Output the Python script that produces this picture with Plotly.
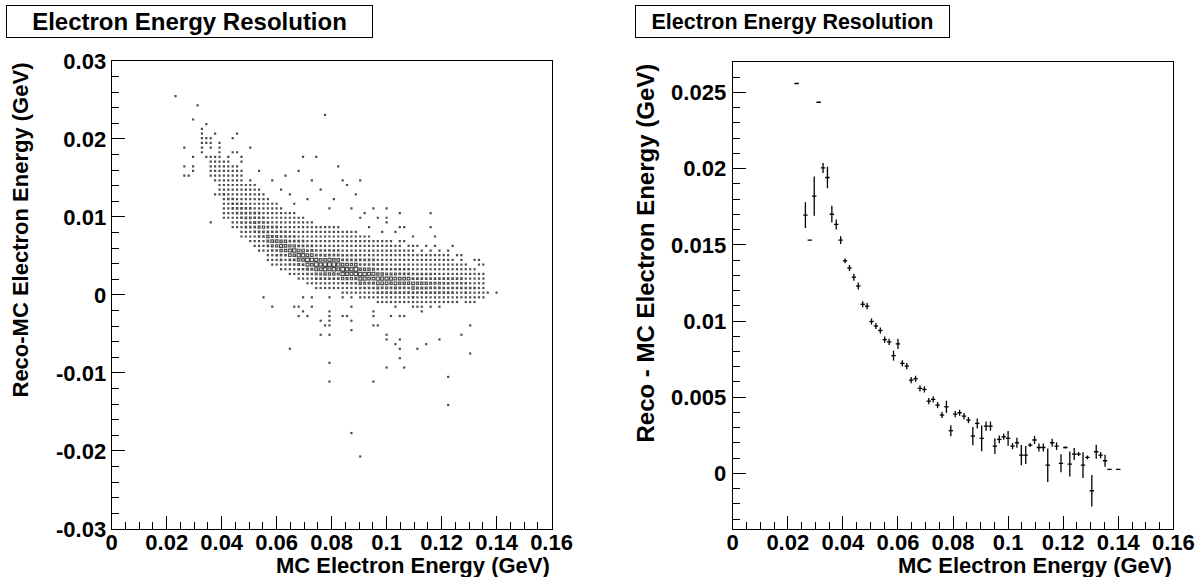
import plotly.graph_objects as go

# ---------------- data ----------------
X_RANGE = (0.0, 0.16)
Y_RANGE_LEFT = (-0.03, 0.03)
Y_RANGE_RIGHT = (-0.00365, 0.0270)
N_XBINS = 100
N_YBINS = 100

# Left panel: 2D histogram cells.
# (column bin index, lowest row bin index, counts going upward)
band_columns = [
    (16, 75, "1 0 1 0 0 0 1"),
    (18, 76, "1 1 0 1 0 0 0 0 0 0 0 1"),
    (20, 80, "1 1 1 1 1 1"),
    (21, 79, "1 0 0 1 1 0 0 1"),
    (22, 75, "1 1 1 2 1 0 1 1 1"),
    (23, 71, "1 0 0 1 2 2 2 1 1 0 0 0 0 1"),
    (24, 71, "1 1 3 2 1 1 1 1 1 1 1 1"),
    (25, 66, "1 1 2 2 3 4 3 2 2 1 1 1 1 0"),
    (26, 65, "0 1 1 2 3 5 3 3 2 2 1 1 1 1"),
    (27, 64, "1 1 2 3 4 5 4 3 2 2 1 1 1 1"),
    (28, 63, "0 1 2 3 4 6 5 3 3 2 1 1 1 1"),
    (29, 62, "1 1 2 4 5 6 5 4 3 2 2 1 1 1"),
    (30, 61, "0 1 2 4 6 7 6 4 3 2 2 1 1 0"),
    (31, 61, "1 1 3 4 6 7 5 4 3 3 2 1 1 1"),
    (32, 60, "1 1 2 5 6 8 6 5 3 2 2 1 1 1"),
    (33, 59, "1 2 3 5 7 8 7 5 4 3 2 1 1 1"),
    (34, 59, "1 1 3 5 7 9 7 5 3 3 2 1 1 0"),
    (35, 57, "1 2 3 6 8 9 7 6 4 3 2 2 1 1"),
    (36, 56, "1 1 3 6 8 10 8 6 4 3 2 1 1 1"),
    (37, 56, "1 2 4 6 9 10 8 5 4 3 2 2 1 1"),
    (38, 55, "1 2 4 7 9 11 9 6 4 3 2 1 1 1"),
    (39, 55, "1 2 3 6 9 10 9 6 4 3 2 2 1 0"),
    (40, 54, "2 2 4 7 10 11 9 6 5 3 2 1 1 1"),
    (41, 54, "1 2 4 7 9 12 9 7 4 3 2 2 1 1"),
    (42, 53, "1 3 5 8 10 12 10 7 5 3 2 1 1 1"),
    (43, 53, "1 2 4 7 10 12 10 7 4 3 2 2 1 1"),
    (44, 52, "2 3 5 8 11 13 10 7 5 3 2 1 1 1"),
    (45, 52, "1 2 5 8 10 12 10 8 5 3 2 2 1 1"),
    (46, 51, "1 3 5 8 11 13 11 7 5 3 2 1 1 1"),
    (47, 51, "1 2 4 8 11 12 10 7 5 3 2 2 1 1"),
    (48, 51, "2 3 5 9 12 13 10 8 5 3 2 1 1 1"),
    (49, 51, "1 3 5 9 11 13 11 7 4 3 2 2 1 1"),
    (50, 51, "2 3 6 9 12 13 10 7 5 3 2 1 1 1"),
    (51, 51, "1 3 5 8 11 12 10 7 5 3 2 2 1 1"),
    (52, 50, "2 3 6 9 12 13 10 7 4 3 2 1 1 1"),
    (53, 50, "1 3 5 8 11 12 10 7 5 3 2 1 1 1"),
    (54, 50, "2 2 5 9 11 12 9 6 4 3 2 2 1 1"),
    (55, 50, "1 3 5 8 12 13 10 7 4 3 2 1 1 1"),
    (56, 49, "2 3 6 9 11 12 9 6 4 3 2 1 1 1"),
    (57, 49, "1 2 5 8 11 12 9 6 4 3 2 2 1 1"),
    (58, 49, "1 3 5 8 10 11 9 6 4 3 2 1 1 1"),
    (59, 49, "2 2 5 8 10 11 8 6 4 2 2 1 1 0"),
    (60, 48, "1 2 4 8 10 12 9 6 4 3 2 1 1 1"),
    (61, 48, "1 2 5 7 10 11 9 6 4 2 2 1 1 1"),
    (62, 48, "1 3 5 8 10 11 8 5 3 2 2 1 1 1"),
    (63, 48, "1 2 4 7 9 11 8 5 3 2 1 1 1 1"),
    (64, 48, "1 2 5 8 10 10 8 5 3 2 2 1 1 0"),
    (65, 48, "1 2 4 7 9 10 7 5 3 2 1 1 1 1"),
    (66, 48, "1 2 4 7 9 10 7 4 3 2 1 1 0 1"),
    (67, 48, "1 2 4 6 9 10 7 4 3 2 1 1 1 0"),
    (68, 47, "1 1 4 6 9 10 7 4 3 2 1 1 1 1"),
    (69, 47, "1 2 3 6 8 9 7 4 3 2 1 1 0 1"),
    (70, 47, "1 1 3 6 8 9 6 4 2 2 1 1 1 0"),
    (71, 47, "0 1 3 5 8 9 6 4 2 1 1 1 0 1"),
    (72, 47, "1 1 3 5 7 8 6 4 2 2 1 1 1 0"),
    (73, 47, "0 1 3 5 7 8 6 3 2 1 1 1 0 1"),
    (74, 47, "1 1 2 5 7 8 5 3 2 1 1 0 1 0"),
    (75, 47, "0 1 2 4 6 7 5 3 2 1 1 1 0 0"),
    (76, 47, "0 1 2 4 6 7 5 3 2 1 1 0 1 0"),
    (77, 47, "0 1 2 4 5 6 4 3 2 1 1 0 0 1"),
    (78, 47, "0 1 2 3 5 6 4 2 2 1 0 1 0 0"),
    (79, 47, "0 0 1 3 4 5 4 2 1 1 0 1 0 0"),
    (80, 46, "0 0 1 2 4 5 4 2 1 1 1 0 0 0"),
    (81, 46, "0 0 1 2 3 4 3 2 1 1 0 0 0 0"),
    (82, 46, "0 0 1 1 3 4 3 2 1 1 0 1 0 0"),
    (83, 46, "0 0 0 1 2 3 2 1 1 0 1 0 0 0"),
    (84, 46, "0 0 0 1 2 3 2 1 1 0 0 0 0 0"),
]

# isolated single-entry cells (column bin, row bin)
single_cells = [
    (14, 92), (17, 75), (19, 90), (22, 65),
    (26, 79), (27, 80), (27, 83), (28, 77), (28, 80), (28, 84), (29, 76),
    (29, 78), (29, 79), (31, 81), (33, 76), (36, 74), (38, 72), (39, 75),
    (40, 71), (41, 69), (42, 76), (43, 79), (44, 70), (45, 74), (46, 79),
    (47, 72), (48, 88), (50, 70), (51, 77), (52, 74), (53, 73), (49, 68),
    (54, 68), (55, 71), (56, 74), (56, 66), (57, 67), (58, 64), (59, 68),
    (60, 66), (61, 63), (62, 68), (62, 66), (62, 65), (64, 63), (65, 67),
    (65, 64), (66, 61), (66, 64), (68, 62), (72, 64), (72, 67), (73, 62),
    (74, 58), (76, 58), (79, 57), (83, 57), (84, 56), (85, 50), (87, 50),
    (34, 49), (36, 47), (40, 38), (41, 47), (42, 47), (42, 45), (43, 49),
    (43, 46), (44, 45), (45, 49), (45, 47), (47, 44), (47, 41), (48, 43),
    (49, 49), (49, 46), (49, 45), (49, 44), (49, 43), (49, 41), (49, 35),
    (49, 31), (52, 49), (52, 45), (53, 45), (54, 49), (54, 47), (54, 44),
    (54, 42), (54, 20), (56, 15), (59, 46), (59, 45), (59, 43), (59, 31),
    (60, 43), (62, 41), (62, 40), (62, 34), (63, 45), (64, 47), (64, 39),
    (65, 45), (65, 40), (65, 38), (65, 36), (66, 45), (66, 34), (69, 38),
    (70, 46), (71, 39), (74, 40), (76, 32), (76, 26), (79, 41), (81, 43),
    (81, 37),
]

# Right panel: profile (bin index, mean, error on mean)
profile_bins = [14, 16, 17, 18, 19, 20, 21, 22, 23, 24, 25, 26, 27, 28, 29, 30,
                31, 32, 33, 34, 35, 36, 37, 38, 39, 40, 41, 42, 43, 44, 45, 46,
                47, 48, 49, 50, 51, 52, 53, 54, 55, 56, 57, 58, 59, 60, 61, 62,
                63, 64, 65, 66, 67, 68, 69, 70, 71, 72, 73, 74, 75, 76, 77, 78,
                79, 80, 81, 82, 83, 84, 85, 87]
profile_mean = [0.02559, 0.01695, 0.01531, 0.01820, 0.02436, 0.02005, 0.01942,
                0.01701, 0.01634, 0.01531, 0.01395, 0.01348, 0.01288, 0.01230,
                0.01110, 0.01098, 0.00997, 0.00967, 0.00938, 0.00878, 0.00863,
                0.00773, 0.00850, 0.00722, 0.00704, 0.00612, 0.00621, 0.00558,
                0.00551, 0.00474, 0.00486, 0.00448, 0.00383, 0.00437, 0.00280,
                0.00389, 0.00398, 0.00376, 0.00350, 0.00245, 0.00328, 0.00230,
                0.00310, 0.00310, 0.00179, 0.00223, 0.00240, 0.00230, 0.00179,
                0.00201, 0.00120, 0.00120, 0.00186, 0.00219, 0.00170, 0.00170,
                0.00054, 0.00201, 0.00179, 0.00066, 0.00170, 0.00061, 0.00127,
                0.00127, 0.00054, 0.00105, -0.00114, 0.00142, 0.00120, 0.00083,
                0.00026, 0.00026]
profile_err = [0.0, 0.00085, 0.0, 0.00129, 0.0, 0.00033, 0.00071, 0.00055,
               0.00033, 0.00026, 0.00016, 0.00020, 0.00023, 0.00023, 0.00020,
               0.00020, 0.00020, 0.00020, 0.00020, 0.00020, 0.00020, 0.00033,
               0.00033, 0.00020, 0.00020, 0.00020, 0.00020, 0.00020, 0.00020,
               0.00020, 0.00020, 0.00020, 0.00020, 0.00040, 0.00036, 0.00020,
               0.00020, 0.00020, 0.00020, 0.00060, 0.00033, 0.00085, 0.00030,
               0.00030, 0.00052, 0.00026, 0.00020, 0.00049, 0.00020, 0.00033,
               0.00066, 0.00059, 0.00013, 0.00026, 0.00026, 0.00026, 0.00110,
               0.00026, 0.00026, 0.00059, 0.00007, 0.00082, 0.00039, 0.00013,
               0.00085, 0.00013, 0.00103, 0.00046, 0.00020, 0.00039, 0.0, 0.0]

x_ticks = [0, 0.02, 0.04, 0.06, 0.08, 0.1, 0.12, 0.14, 0.16]
x_tick_text = ["0", "0.02", "0.04", "0.06", "0.08", "0.1", "0.12", "0.14", "0.16"]
yl_ticks = [-0.03, -0.02, -0.01, 0, 0.01, 0.02, 0.03]
yl_tick_text = ["-0.03", "-0.02", "-0.01", "0", "0.01", "0.02", "0.03"]
yr_ticks = [0, 0.005, 0.01, 0.015, 0.02, 0.025]
yr_tick_text = ["0", "0.005", "0.01", "0.015", "0.02", "0.025"]

TITLE = "Electron Energy Resolution"
X_TITLE = "MC Electron Energy (GeV)"
YL_TITLE = "Reco-MC Electron Energy (GeV)"
YR_TITLE = "Reco - MC Electron Energy (GeV)"

# ---------------- build ----------------
bw = (X_RANGE[1] - X_RANGE[0]) / N_XBINS
bh = (Y_RANGE_LEFT[1] - Y_RANGE_LEFT[0]) / N_YBINS

cells = {}
for i, jlo, s in band_columns:
    for k, c in enumerate(s.split()):
        c = int(c)
        if c:
            cells[(i, jlo + k)] = cells.get((i, jlo + k), 0) + c
for i, j in single_cells:
    cells[(i, j)] = cells.get((i, j), 0) + 1

cmax = max(cells.values())
sx, sy, ss = [], [], []      # small cells: filled dots
bx, by, bs = [], [], []      # larger cells: open boxes
for (i, j), c in sorted(cells.items()):
    xc = X_RANGE[0] + (i + 0.5) * bw
    yc = Y_RANGE_LEFT[0] + (j + 0.5) * bh
    side = 4.4 * c / cmax
    if c <= 3:
        sx.append(xc); sy.append(yc); ss.append(max(2.2, side + 0.8))
    else:
        bx.append(xc); by.append(yc); bs.append(max(1.4, side - 0.8))

px = [X_RANGE[0] + (b + 0.5) * bw for b in profile_bins]

FONT = "Liberation Sans, Arial, Helvetica, sans-serif"

fig = go.Figure()
fig.add_trace(go.Scatter(
    x=sx, y=sy, mode="markers", xaxis="x", yaxis="y",
    marker=dict(symbol="square", size=ss, color="black", line=dict(width=0)),
    hoverinfo="skip", showlegend=False))
fig.add_trace(go.Scatter(
    x=bx, y=by, mode="markers", xaxis="x", yaxis="y",
    marker=dict(symbol="square-open", size=bs, color="black",
                line=dict(width=1.2, color="black")),
    hoverinfo="skip", showlegend=False))

fig.add_trace(go.Scatter(
    x=px, y=profile_mean, mode="markers", xaxis="x2", yaxis="y2",
    marker=dict(size=1, color="black", opacity=0),
    error_x=dict(type="constant", value=bw / 2, width=0, thickness=1.3, color="black"),
    error_y=dict(type="data", array=profile_err, width=0, thickness=1.3, color="black"),
    hoverinfo="skip", showlegend=False))

tickfont = dict(family=FONT, size=22, color="black", weight="bold")
common = dict(showline=True, mirror=True, linecolor="black", linewidth=1.3,
              ticks="inside", ticklen=13, tickwidth=1.2, tickcolor="black",
              showgrid=False, zeroline=False, tickfont=tickfont,
              tickmode="array", fixedrange=True, automargin=False)

def minor(dt):
    return dict(tickmode="linear", tick0=0, dtick=dt, ticks="inside",
                ticklen=7, tickwidth=1.2, tickcolor="black", showgrid=False)

fig.update_layout(
    template="none",
    width=1199, height=577, margin=dict(l=0, r=0, t=0, b=0, pad=0),
    paper_bgcolor="white", plot_bgcolor="white",
    xaxis=dict(domain=[0.0932, 0.4600], range=list(X_RANGE), anchor="y",
               tickvals=x_ticks, ticktext=x_tick_text, minor=minor(0.005),
               ticklabelstandoff=-7, **common),
    yaxis=dict(domain=[0.0832, 0.8943], range=list(Y_RANGE_LEFT), anchor="x",
               tickvals=yl_ticks, ticktext=yl_tick_text, minor=minor(0.002),
               ticklabelstandoff=0, **common),
    xaxis2=dict(domain=[0.6111, 0.9786], range=list(X_RANGE), anchor="y2",
                tickvals=x_ticks, ticktext=x_tick_text, minor=minor(0.005),
                ticklabelstandoff=-7, **common),
    yaxis2=dict(domain=[0.0832, 0.8925], range=list(Y_RANGE_RIGHT), anchor="x2",
                tickvals=yr_ticks, ticktext=yr_tick_text, minor=minor(0.001),
                ticklabelstandoff=1, **common),
)

W, H = 1199.0, 577.0
ann = []
# titles in boxes
ann.append(dict(text=TITLE, xref="paper", yref="paper", x=6 / W, y=1 - 5 / H,
                xanchor="left", yanchor="top", showarrow=False,
                width=365, height=31, align="center", valign="middle",
                bordercolor="black", borderwidth=1, borderpad=0, bgcolor="white",
                font=dict(family=FONT, size=24, color="black", weight="bold")))
ann.append(dict(text=TITLE, xref="paper", yref="paper", x=635 / W, y=1 - 5 / H,
                xanchor="left", yanchor="top", showarrow=False,
                width=313, height=31, align="center", valign="middle",
                bordercolor="black", borderwidth=1, borderpad=0, bgcolor="white",
                font=dict(family=FONT, size=21.5, color="black", weight="bold")))
# axis titles
ax_font = dict(family=FONT, size=22, color="black", weight="bold")
ann.append(dict(text=X_TITLE, xref="paper", yref="paper", x=552 / W, y=1 - 565.5 / H,
                xanchor="right", yanchor="middle", showarrow=False, font=ax_font))
ann.append(dict(text=X_TITLE, xref="paper", yref="paper", x=1174 / W, y=1 - 565.5 / H,
                xanchor="right", yanchor="middle", showarrow=False, font=ax_font))
ann.append(dict(text=YL_TITLE, xref="paper", yref="paper", x=20 / W, y=1 - 61 / H,
                xanchor="center", yanchor="top", textangle=-90, showarrow=False,
                font=ax_font))
ann.append(dict(text=YR_TITLE, xref="paper", yref="paper", x=645 / W, y=1 - 62 / H,
                xanchor="center", yanchor="top", textangle=-90, showarrow=False,
                font=dict(family=FONT, size=24, color="black", weight="bold")))
fig.update_layout(annotations=ann)

fig.write_html("out.html")
